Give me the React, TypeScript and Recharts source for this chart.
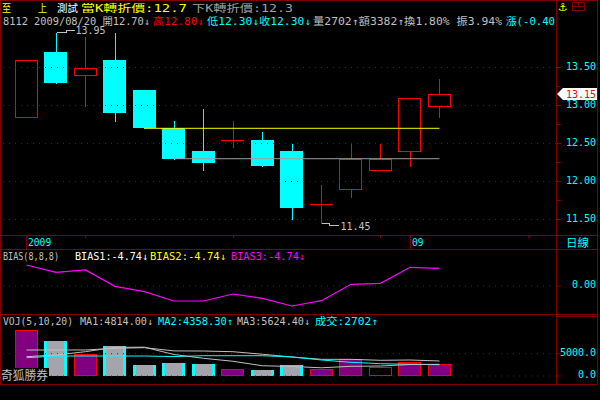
import React from 'react';
import { ComposedChart, Bar, Line, XAxis, YAxis, ReferenceLine, ReferenceDot } from 'recharts';

const MONO = "'DejaVu Sans Mono', 'Noto Sans CJK TC', monospace";
const CJK = "'Noto Sans CJK TC', 'DejaVu Sans', sans-serif";

const C = {
  frame: '#800000',
  grid: '#a00000',
  red: '#ff0000',
  cyan: '#00ffff',
  yellow: '#ffff00',
  magenta: '#ff00ff',
  gray: '#c0c0c0',
  dim: '#a0a0a0',
  white: '#ffffff',
  purple: '#800080',
  volGray: '#a4a4ac',
};

// daily bars, 2009/08/13 .. 2009/09/02
const dates = [
  '2009/08/13', '2009/08/14', '2009/08/17', '2009/08/18', '2009/08/19',
  '2009/08/20', '2009/08/21', '2009/08/24', '2009/08/25', '2009/08/26',
  '2009/08/27', '2009/08/28', '2009/08/31', '2009/09/01', '2009/09/02',
];
const opens = [12.85, 13.7, 13.4, 13.6, 13.2, 12.7, 12.4, 12.55, 12.55, 12.4, 11.7, 11.9, 12.15, 12.4, 13.0];
const highs = [13.6, 13.95, 13.9, 13.95, 13.2, 12.8, 12.95, 12.8, 12.65, 12.5, 11.95, 12.5, 12.5, 13.1, 13.35];
const lows = [12.85, 13.3, 13.0, 12.8, 12.7, 12.3, 12.15, 12.45, 12.2, 11.5, 11.45, 11.8, 12.15, 12.2, 12.85];
const closes = [13.6, 13.3, 13.5, 12.9, 12.7, 12.3, 12.25, 12.55, 12.2, 11.65, 11.7, 12.3, 12.3, 13.1, 13.15];

const volumes = [10300, 7900, 4870, 6730, 2470, 2980, 2690, 1570, 1350, 2470, 1570, 3740, 2020, 3070, 2702];
const volMa5 = [4330, 4710, 5450, 6430, 6460, 4814, 3970, 3300, 2300, 2130, 1840, 2170, 2240, 2580, 2620];
const volMa10 = [4100, 4480, 4480, 4480, 4480, 4358, 4550, 4550, 4550, 4260, 3590, 3070, 2760, 2620, 2530];
const volMa20 = [5830, 5830, 5830, 6210, 6350, 5624, 5600, 5450, 4870, 4260, 3740, 3740, 3520, 3590, 3360];

// BIAS(8,8,8): the three lines coincide, only the last (magenta) shows
const bias = [6.64, 4.33, 5.06, -0.1, -1.8, -4.74, -4.74, -2.53, -3.89, -6.32, -4.64, 0.54, 0.85, 5.91, 5.59];

const upTurn = 12.7;
const downTurn = 12.3;
const upTurnFrom = 4;
const downTurnFrom = 5;

const priceTicks = [11.5, 11.75, 12, 12.25, 12.5, 12.75, 13, 13.25, 13.5];
const priceLabels = [11.5, 12, 12.5, 13, 13.5];
const biasTicks = [0];
const volTicks = [0, 5000];
const dateTicks = [0, 2, 7, 12, 13, 17];
const dateLabels: Record<number, string> = { 0: '2009', 13: '09' };

const X_DOMAIN = [-0.83, 17.95];
const PRICE_DOMAIN = [11.296, 14.02];
const BIAS_DOMAIN = [-8.85, 11.69];
const VOL_DOMAIN = [-1794, 13900];

const rows = dates.map((d, i) => ({
  i,
  date: d,
  open: opens[i],
  high: highs[i],
  low: lows[i],
  close: closes[i],
  range: [lows[i], highs[i]],
  vol: volumes[i],
  ma5: volMa5[i],
  ma10: volMa10[i],
  ma20: volMa20[i],
  bias: bias[i],
  dir: Math.sign(closes[i] - (i ? closes[i - 1] : opens[i])),
}));

const hiVal = Math.max(...highs);
const hiIdx = highs.indexOf(hiVal);
const loVal = Math.min(...lows);
const loIdx = lows.indexOf(loVal);
const lastClose = closes[closes.length - 1];

// 1px outline drawn as a filled rect with a black inner rect
const Box = ({ x, y, w, h, color, fill }: any) => (
  <g>
    <rect x={x} y={y} width={w} height={h} fill={color} />
    {w > 2 && h > 2 && <rect x={x + 1} y={y + 1} width={w - 2} height={h - 2} fill={fill} />}
  </g>
);

function Candle(props: any) {
  const { x, y, width, height, payload } = props;
  if (x == null || !payload) return null;
  const top = Math.min(y, y + height);
  const h = Math.abs(height);
  const { open, close, high, low } = payload;
  const py = (v: number) => Math.round(top + ((high - v) / (high - low)) * h);
  const L = Math.round(x);
  const W = Math.round(width);
  const cx = Math.round(x + width / 2);
  const hi = py(high);
  const lo = py(low);
  if (close === open) {
    const yy = py(open);
    return (
      <g>
        <rect x={cx} y={hi} width={1} height={lo - hi + 1} fill={C.red} />
        <rect x={L} y={yy} width={W} height={1} fill={C.red} />
      </g>
    );
  }
  const bt = py(Math.max(open, close));
  const bb = py(Math.min(open, close));
  if (close > open) {
    return (
      <g>
        <rect x={cx} y={hi} width={1} height={lo - hi + 1} fill={C.red} />
        <Box x={L} y={bt} w={W} h={bb - bt + 1} color={C.red} fill="#000" />
      </g>
    );
  }
  return (
    <g>
      <rect x={cx} y={hi} width={1} height={lo - hi + 1} fill={C.cyan} />
      <rect x={L} y={bt} width={W} height={bb - bt} fill={C.cyan} />
    </g>
  );
}

function VolBar(props: any) {
  const { x, y, width, height, payload } = props;
  if (x == null || !payload) return null;
  const T = Math.round(Math.min(y, y + height));
  const H = Math.round(Math.abs(height));
  const L = Math.round(x);
  const W = Math.round(width);
  if (payload.dir > 0) return <Box x={L} y={T} w={W} h={H} color={C.red} fill={C.purple} />;
  if (payload.dir === 0) return <Box x={L} y={T} w={W} h={H} color={C.red} fill="#000" />;
  return (
    <g>
      <rect x={L} y={T} width={W} height={H} fill={C.cyan} />
      <rect x={L + 3} y={T} width={W - 6} height={H} fill={C.volGray} />
    </g>
  );
}

const axisLabel = (fmt: (v: number) => string, show?: number[]) => (props: any) => {
  const { x, y, payload } = props;
  if (show && !show.includes(payload.value)) return null;
  return (
    <text x={x + 35} y={y + 2.5} textAnchor="end" fill={C.cyan} fontSize={10} fontFamily={MONO}>
      {fmt(payload.value)}
    </text>
  );
};

function DateTick(props: any) {
  const { x, y, payload } = props;
  const px = Math.round(x) + 0.5;
  const label = dateLabels[payload.value];
  if (label) {
    return (
      <g>
        <line x1={px} x2={px} y1={y} y2={y + 14} stroke={C.frame} />
        <text x={px + 1.5} y={y + 11} fill={C.cyan} fontSize={11} fontFamily={MONO}
          textLength={label.length * 5.8} lengthAdjust="spacingAndGlyphs">{label}</text>
      </g>
    );
  }
  return <line x1={px} x2={px} y1={y} y2={y + 3} stroke={C.frame} />;
}

const HighMark = (props: any) => {
  const { cx, cy } = props;
  const x = Math.round(cx) + 0.5;
  const y = Math.round(cy) - 0.5;
  return (
    <g>
      <path d={`M${x} ${y}H${x + 10}V${y - 2}H${x + 18}`} stroke={C.gray} fill="none" shapeRendering="crispEdges" />
      <text x={x + 19} y={y + 1.5} fill={C.gray} fontSize={10} fontFamily={MONO}>{hiVal.toFixed(2)}</text>
    </g>
  );
};

const LowMark = (props: any) => {
  const { cx, cy } = props;
  const x = Math.round(cx) + 0.5;
  const y = Math.round(cy) + 0.5;
  return (
    <g>
      <path d={`M${x} ${y}H${x + 8}V${y + 2}H${x + 17}`} stroke={C.gray} fill="none" shapeRendering="crispEdges" />
      <text x={x + 19} y={y + 6} fill={C.gray} fontSize={10} fontFamily={MONO}>{loVal.toFixed(2)}</text>
    </g>
  );
};

const PriceTag = (props: any) => {
  const { cx, cy } = props;
  const x0 = cx + 1;
  return (
    <g>
      <polygon points={`${x0},${cy} ${x0 + 6},${cy - 6} ${597},${cy - 6} ${597},${cy + 6} ${x0 + 6},${cy + 6}`} fill="#fff" />
      <text x={596} y={cy + 4} textAnchor="end" fill={C.red} fontSize={10} fontFamily={MONO}>{lastClose.toFixed(2)}</text>
    </g>
  );
};

const T = ({ x, y, w, c, s = 10, f = MONO, children }: any) => (
  <text x={x} y={y} fill={c} fontSize={s} fontFamily={f} textLength={w} lengthAdjust="spacingAndGlyphs">
    {children}
  </text>
);

const chartBox = (top: number): React.CSSProperties => ({ position: 'absolute', left: 0, top });

export default function App() {
  return (
    <div style={{ position: 'absolute', left: 0, top: 0, width: 600, height: 400, background: '#000', overflow: 'hidden' }}>
      {/* price panel */}
      <div style={chartBox(0)}>
        <ComposedChart width={600} height={249} data={rows} margin={{ top: 28, right: 0, bottom: 0, left: 2 }}>
          <XAxis dataKey="i" type="number" domain={X_DOMAIN} allowDataOverflow ticks={dateTicks} interval={0}
            tick={<DateTick />} tickLine={false} axisLine={false} tickSize={0} tickMargin={0} height={14} />
          <YAxis orientation="right" type="number" domain={PRICE_DOMAIN} allowDataOverflow ticks={priceTicks}
            interval={0} tick={axisLabel((v) => v.toFixed(2), priceLabels)} tickLine={{ stroke: C.frame }}
            tickSize={5} tickMargin={0} axisLine={false} width={44} />
          {priceLabels.map((v) => (
            <ReferenceLine key={v} y={v} stroke={C.grid} strokeDasharray="1 5" />
          ))}
          <Bar dataKey="range" shape={Candle} barSize={23} isAnimationActive={false} />
          <ReferenceLine segment={[{ x: upTurnFrom, y: upTurn }, { x: rows.length - 1, y: upTurn }]} stroke={C.yellow} />
          <ReferenceLine segment={[{ x: downTurnFrom, y: downTurn }, { x: rows.length - 1, y: downTurn }]} stroke={C.dim} />
          <ReferenceDot x={hiIdx} y={hiVal} shape={HighMark} ifOverflow="visible" />
          <ReferenceDot x={loIdx} y={loVal} shape={LowMark} ifOverflow="visible" />
          <ReferenceDot x={X_DOMAIN[1]} y={lastClose} shape={PriceTag} ifOverflow="visible" />
        </ComposedChart>
      </div>

      {/* BIAS panel */}
      <div style={chartBox(249)}>
        <ComposedChart width={600} height={65} data={rows} margin={{ top: 0, right: 0, bottom: 0, left: 2 }}>
          <XAxis dataKey="i" type="number" domain={X_DOMAIN} allowDataOverflow hide />
          <YAxis orientation="right" type="number" domain={BIAS_DOMAIN} allowDataOverflow ticks={biasTicks}
            interval={0} tick={axisLabel((v) => v.toFixed(2))} tickLine={{ stroke: C.frame }} tickSize={5}
            tickMargin={0} axisLine={false} width={44} />
          <ReferenceLine y={0} stroke={C.grid} strokeDasharray="1 5" />
          <Line dataKey="bias" stroke={C.magenta} strokeWidth={1.2} dot={false} isAnimationActive={false} />
        </ComposedChart>
      </div>

      {/* volume panel */}
      <div style={chartBox(314)}>
        <ComposedChart width={600} height={70} data={rows} margin={{ top: 0, right: 0, bottom: 0, left: 2 }}>
          <XAxis dataKey="i" type="number" domain={X_DOMAIN} allowDataOverflow hide />
          <YAxis orientation="right" type="number" domain={VOL_DOMAIN} allowDataOverflow ticks={volTicks}
            interval={0} tick={axisLabel((v) => v.toFixed(1))} tickLine={{ stroke: C.frame }} tickSize={5}
            tickMargin={0} axisLine={false} width={44} />
          {volTicks.map((v) => (
            <ReferenceLine key={v} y={v} stroke={C.grid} strokeDasharray="1 5" />
          ))}
          <Bar dataKey="vol" shape={VolBar} barSize={23} isAnimationActive={false} />
          <Line dataKey="ma20" stroke={C.gray} dot={false} isAnimationActive={false} />
          <Line dataKey="ma10" stroke={C.cyan} dot={false} isAnimationActive={false} />
          <Line dataKey="ma5" stroke={C.gray} dot={false} isAnimationActive={false} />
        </ComposedChart>
      </div>

      {/* frame, headers */}
      <svg width={600} height={400} style={{ position: 'absolute', left: 0, top: 0, pointerEvents: 'none' }}>
        <g stroke={C.frame} strokeWidth={1} shapeRendering="crispEdges">
          <line x1={0} x2={598} y1={0.5} y2={0.5} />
          <line x1={0.5} x2={0.5} y1={0} y2={385} />
          <line x1={597.5} x2={597.5} y1={0} y2={385} />
          <line x1={556.5} x2={556.5} y1={0} y2={385} />
          <line x1={0} x2={598} y1={235.5} y2={235.5} />
          <line x1={0} x2={598} y1={249.5} y2={249.5} />
          <line x1={0} x2={598} y1={314.5} y2={314.5} />
          <line x1={556} x2={598} y1={316.5} y2={316.5} />
          <line x1={0} x2={598} y1={384.5} y2={384.5} />
          <rect x={572.5} y={2.5} width={12} height={8} fill="none" />
          <line x1={572.5} x2={584.5} y1={6.5} y2={6.5} />
          <line x1={578.5} x2={578.5} y1={2.5} y2={6.5} />
        </g>
        <text x={558} y={11} fill={C.yellow} fontSize={11} fontFamily="'DejaVu Sans'">⚓</text>

        <T x={2} y={11.5} w={9} c={C.yellow} s={10} f={CJK}>至</T>
        <T x={38} y={11.5} w={9} c={C.yellow} s={10} f={CJK}>上</T>
        <T x={57} y={11.5} w={21} c={C.white} s={10} f={CJK}>測試</T>
        <T x={81} y={11.5} w={106} c={C.yellow} s={10}>當K轉折價:12.7</T>
        <T x={192} y={11.5} w={101} c={C.dim} s={10}>下K轉折價:12.3</T>

        <T x={3} y={25} w={147} c={C.gray}>8112 2009/08/20 開12.70↓</T>
        <T x={153} y={25} w={51} c={C.red}>高12.80↓</T>
        <T x={207} y={25} w={104} c={C.cyan}>低12.30↓收12.30↓</T>
        <T x={313} y={25} w={189} c={C.gray}>量2702↑額3382↑換1.80% 振3.94%</T>
        <T x={506} y={25} w={49} c={C.cyan}>漲(-0.40</T>

        <T x={566} y={247} w={23} c={C.cyan} s={11} f={CJK}>日線</T>

        <T x={3} y={260} w={56} c={C.gray}>BIAS(8,8,8)</T>
        <T x={75} y={260} w={73} c={C.white}>BIAS1:-4.74↓</T>
        <T x={150} y={260} w={76} c={C.yellow}>BIAS2:-4.74↓</T>
        <T x={231} y={260} w={74} c={C.magenta}>BIAS3:-4.74↓</T>

        <T x={3} y={325} w={70} c={C.gray}>VOJ(5,10,20)</T>
        <T x={80} y={325} w={73} c={C.gray}>MA1:4814.00↓</T>
        <T x={158} y={325} w={75} c={C.cyan}>MA2:4358.30↑</T>
        <T x={237} y={325} w={73} c={C.gray}>MA3:5624.40↓</T>
        <T x={315} y={325} w={63} c={C.cyan}>成交:2702↑</T>

        <rect x={1} y={368} width={48} height={13} fill="#000" />
        <T x={1} y={380} w={47} c={C.gray} s={12} f={CJK}>奇狐勝券</T>
      </svg>
    </div>
  );
}
